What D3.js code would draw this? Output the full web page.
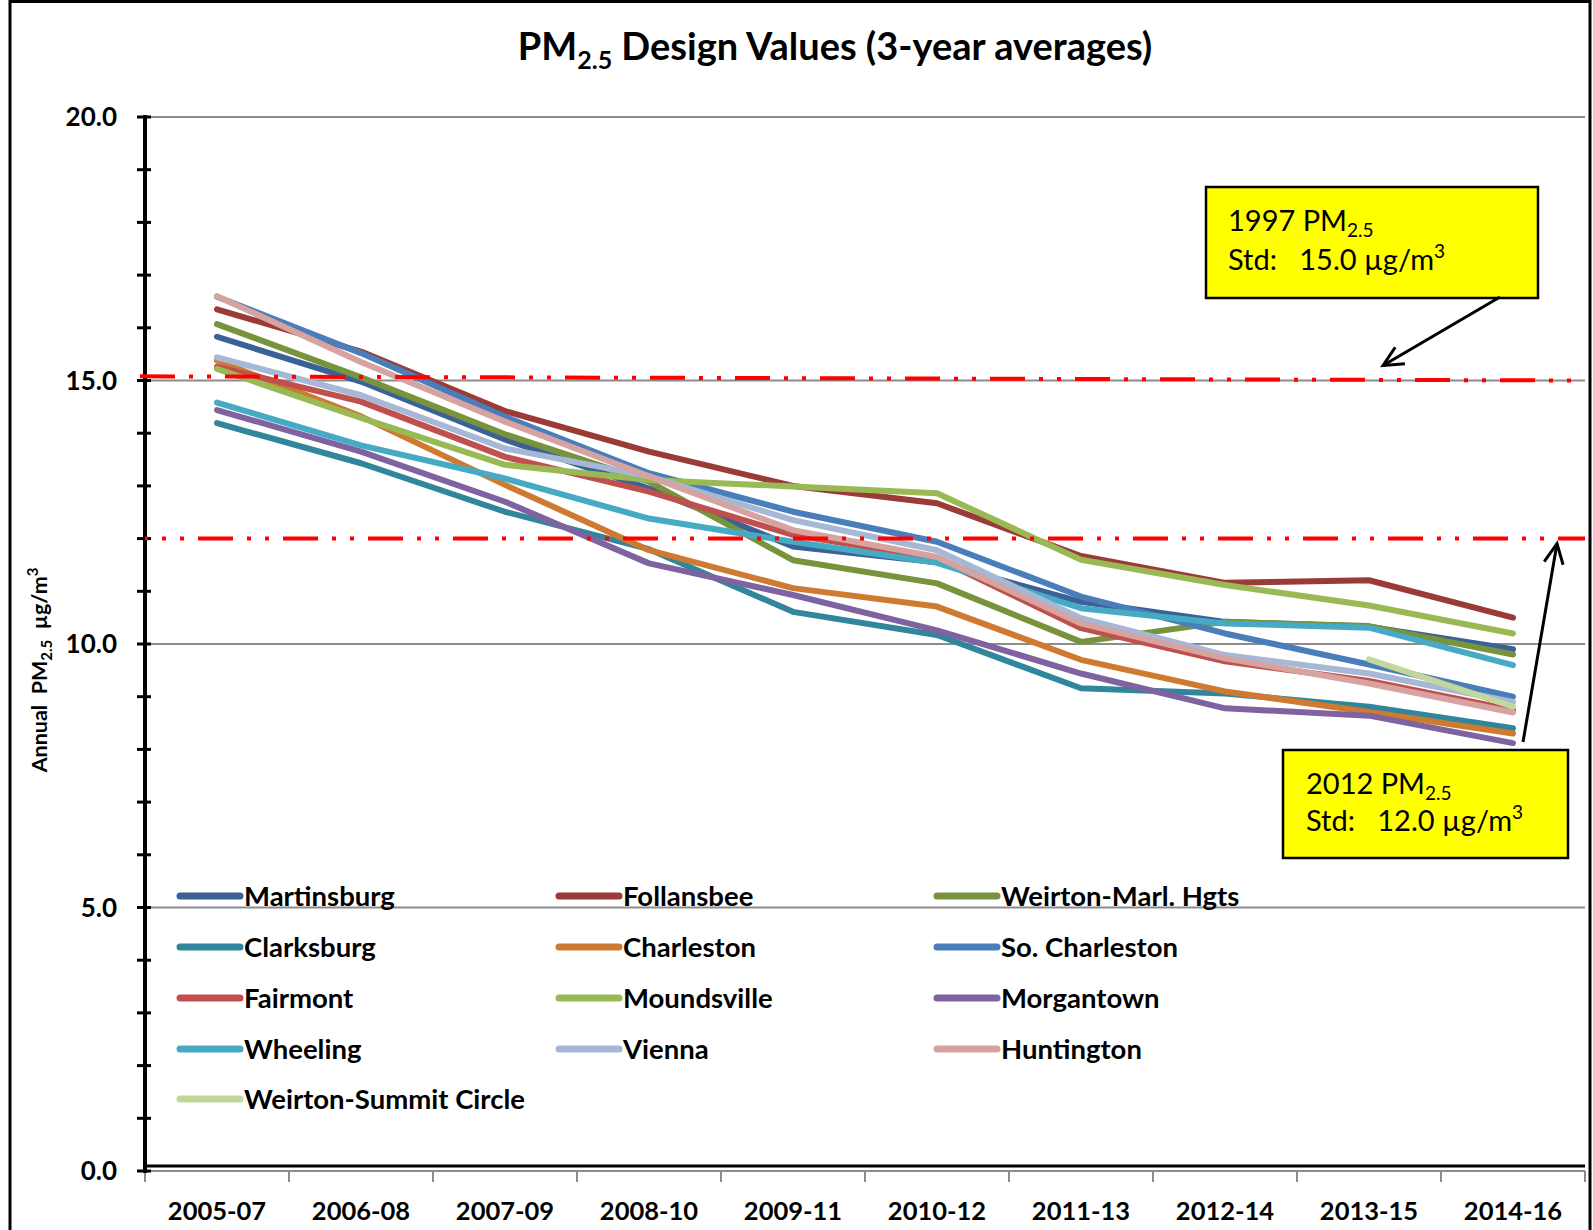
<!DOCTYPE html>
<html><head><meta charset="utf-8">
<script src="https://cdn.jsdelivr.net/npm/d3@7"></script>
<style>
body{margin:0;background:#fff;}
text{font-family:Lato,"Open Sans",sans-serif;}
</style>
</head><body>
<svg id="chart" width="1593" height="1230"></svg>
<script>
// ---------- DATA ----------
const categories = ["2005-07","2006-08","2007-09","2008-10","2009-11","2010-12","2011-13","2012-14","2013-15","2014-16"];
const martinsburg   = [15.83,14.98,13.88,12.95,11.85,11.55,10.80,10.42,10.33,9.90];
const follansbee    = [16.35,15.55,14.42,13.65,13.00,12.67,11.67,11.16,11.21,10.50];
const weirtonMarl   = [16.07,15.06,13.98,13.08,11.59,11.15,10.04,10.42,10.34,9.80];
const clarksburg    = [14.19,13.43,12.51,11.80,10.61,10.17,9.16,9.06,8.81,8.40];
const charleston    = [15.38,14.32,13.02,11.78,11.06,10.71,9.70,9.10,8.71,8.30];
const soCharleston  = [16.59,15.52,14.31,13.24,12.51,11.94,10.90,10.20,9.61,9.00];
const fairmont      = [15.26,14.60,13.55,12.89,12.07,11.62,10.30,9.67,9.30,8.75];
const moundsville   = [15.22,14.29,13.40,13.11,12.99,12.86,11.60,11.12,10.73,10.20];
const morgantown    = [14.44,13.65,12.70,11.53,10.93,10.26,9.44,8.78,8.64,8.12];
const wheeling      = [14.58,13.77,13.14,12.38,11.94,11.54,10.68,10.39,10.31,9.60];
const vienna        = [15.44,14.72,13.71,13.18,12.35,11.78,10.49,9.79,9.44,8.90];
const huntington    = [16.60,15.35,14.22,13.18,12.16,11.65,10.39,9.73,9.25,8.70];
const weirtonSummit = [null,null,null,null,null,null,null,null,9.71,8.81];

const seriesNames = ["Martinsburg","Follansbee","Weirton-Marl. Hgts","Clarksburg","Charleston","So. Charleston",
  "Fairmont","Moundsville","Morgantown","Wheeling","Vienna","Huntington","Weirton-Summit Circle"];
const seriesValues = [martinsburg,follansbee,weirtonMarl,clarksburg,charleston,soCharleston,
  fairmont,moundsville,morgantown,wheeling,vienna,huntington,weirtonSummit];
const seriesColors = ["#3A6296","#9B3B38","#77933C","#31869B","#CF7A31","#4A7EBB",
  "#C0504D","#98B954","#7F62A0","#46AAC5","#A6B8D6","#D6A3A1","#C3D69B"];

const yTickLabels = [0,5,10,15,20];
const yMinorTicks = d3.range(0,21,1);
const standards = [
  {label1:"1997 PM", sub:"2.5", label2:"Std:   15.0 µg/m", value:15.0, startValue:15.08},
  {label1:"2012 PM", sub:"2.5", label2:"Std:   12.0 µg/m", value:12.0, startValue:12.0}
];

// ---------- LAYOUT ----------
const plot = {left:145, right:1585, top:117, bottom:1171};
const svg = d3.select("#chart");

const x = d3.scaleBand().domain(categories).range([plot.left, plot.right]);
const cx = c => x(c) + x.bandwidth()/2;
const y = d3.scaleLinear().domain([0,20]).range([plot.bottom, plot.top]);

// outer frame
svg.append("rect").attr("x",10).attr("y",1.5).attr("width",1580).attr("height",1260)
  .attr("fill","none").attr("stroke","#000").attr("stroke-width",3);

// title
const title = svg.append("text").attr("x",835).attr("y",60).attr("text-anchor","middle")
  .attr("font-size",38).attr("font-weight","bold");
title.append("tspan").text("PM");
title.append("tspan").attr("font-size",25).attr("dy",9).text("2.5");
title.append("tspan").attr("dy",-9).text(" Design Values (3-year averages)");

// gridlines
svg.append("g").selectAll("line").data(yTickLabels).join("line")
  .attr("x1",plot.left).attr("x2",plot.right)
  .attr("y1",d=>y(d)).attr("y2",d=>y(d))
  .attr("stroke","#8c8c8c").attr("stroke-width",2);

// bottom black line
svg.append("line").attr("x1",plot.left).attr("x2",plot.right)
  .attr("y1",y(0)-5).attr("y2",y(0)-5).attr("stroke","#000").attr("stroke-width",3);

// x axis ticks
const bounds = categories.map(c=>x(c)).concat([plot.right]);
svg.append("g").selectAll("line").data(bounds).join("line")
  .attr("x1",d=>d).attr("x2",d=>d).attr("y1",y(0)).attr("y2",y(0)+11)
  .attr("stroke","#8c8c8c").attr("stroke-width",2);
svg.append("g").selectAll("text").data(categories).join("text")
  .attr("x",d=>cx(d)).attr("y",1220).attr("text-anchor","middle")
  .attr("font-size",25.5).attr("font-weight","bold").text(d=>d);

// y axis
svg.append("line").attr("x1",plot.left).attr("x2",plot.left)
  .attr("y1",plot.top-2).attr("y2",plot.bottom+2).attr("stroke","#000").attr("stroke-width",4);
svg.append("g").selectAll("line").data(yMinorTicks).join("line")
  .attr("x1",plot.left-8).attr("x2",plot.left+6).attr("y1",d=>y(d)).attr("y2",d=>y(d))
  .attr("stroke","#000").attr("stroke-width",3);
svg.append("g").selectAll("text").data(yTickLabels).join("text")
  .attr("x",117).attr("y",d=>y(d)+9).attr("text-anchor","end")
  .attr("font-size",26).attr("font-weight","bold").text(d=>d3.format(".1f")(d));

// y title
const yt = svg.append("text").attr("transform","translate(47,670) rotate(-90)")
  .attr("text-anchor","middle").attr("font-size",21.5).attr("font-weight","bold")
  .style("white-space","pre");
yt.append("tspan").text("Annual  PM");
yt.append("tspan").attr("font-size",15).attr("dy",5).text("2.5");
yt.append("tspan").attr("dy",-5).text("  µg/m");
yt.append("tspan").attr("font-size",15).attr("dy",-9).text("3");

// series lines
const line = d3.line().defined(d=>d.v!=null).x(d=>cx(d.c)).y(d=>y(d.v));
const series = seriesNames.map((n,i)=>({name:n, color:seriesColors[i],
  pts: seriesValues[i].map((v,j)=>({c:categories[j], v}))}));
svg.append("g").selectAll("path").data(series).join("path")
  .attr("d",d=>line(d.pts)).attr("fill","none").attr("stroke",d=>d.color)
  .attr("stroke-width",6).attr("stroke-linecap","round").attr("stroke-linejoin","round");

// standard lines
svg.append("line").attr("x1",140).attr("x2",plot.right)
  .attr("y1",y(standards[0].startValue)).attr("y2",y(standards[0].value))
  .attr("stroke","#FF0000").attr("stroke-width",4)
  .attr("stroke-dasharray","35,14,4,14,4,14");
svg.append("line").attr("x1",plot.left).attr("x2",plot.right)
  .attr("y1",y(standards[1].startValue)).attr("y2",y(standards[1].value))
  .attr("stroke","#FF0000").attr("stroke-width",4)
  .attr("stroke-dasharray","35,14,4,14,4,14").attr("stroke-dashoffset",32);

// legend
const legCols = [180, 559, 937], legRows = [896, 947, 998, 1049, 1099];
const leg = svg.append("g").selectAll("g").data(series).join("g")
  .attr("transform",(d,i)=>`translate(${legCols[i%3]},${legRows[Math.floor(i/3)]})`);
leg.append("line").attr("x1",0).attr("x2",60).attr("y1",0).attr("y2",0)
  .attr("stroke",d=>d.color).attr("stroke-width",7).attr("stroke-linecap","round");
leg.append("text").attr("x",64).attr("y",10).attr("font-size",27.5).attr("font-weight","bold")
  .text(d=>d.name);

// annotation boxes
const boxes = [
  {std:standards[0], x:1206, y:187, w:332, h:111, tx:1228, ty1:231, ty2:270,
   from:[1500,297], to:[1383, y(15)-15]},
  {std:standards[1], x:1283, y:750, w:285, h:108, tx:1306, ty1:794, ty2:831,
   from:[1523,742], to:[1557, y(12)+5]}
];
boxes.forEach(b=>{
  svg.append("rect").attr("x",b.x).attr("y",b.y).attr("width",b.w).attr("height",b.h)
    .attr("fill","#FFFF00").attr("stroke","#000").attr("stroke-width",2.5);
  const t1 = svg.append("text").attr("x",b.tx).attr("y",b.ty1).attr("font-size",29);
  t1.append("tspan").text(b.std.label1);
  t1.append("tspan").attr("font-size",19).attr("dy",6).text(b.std.sub);
  const t2 = svg.append("text").attr("x",b.tx).attr("y",b.ty2).attr("font-size",29)
    .style("white-space","pre");
  t2.append("tspan").text(b.std.label2);
  t2.append("tspan").attr("font-size",19).attr("dy",-12).text("3");
  const [x1,y1]=b.from,[x2,y2]=b.to;
  svg.append("line").attr("x1",x1).attr("y1",y1).attr("x2",x2).attr("y2",y2)
    .attr("stroke","#000").attr("stroke-width",3);
  const ang = Math.atan2(y2-y1,x2-x1), L=22, a=0.45;
  const p1=[x2-L*Math.cos(ang-a), y2-L*Math.sin(ang-a)];
  const p2=[x2-L*Math.cos(ang+a), y2-L*Math.sin(ang+a)];
  svg.append("path").attr("d",`M${p1}L${x2},${y2}L${p2}`).attr("fill","none")
    .attr("stroke","#000").attr("stroke-width",3).attr("stroke-linejoin","miter");
});
</script>
</body></html>
